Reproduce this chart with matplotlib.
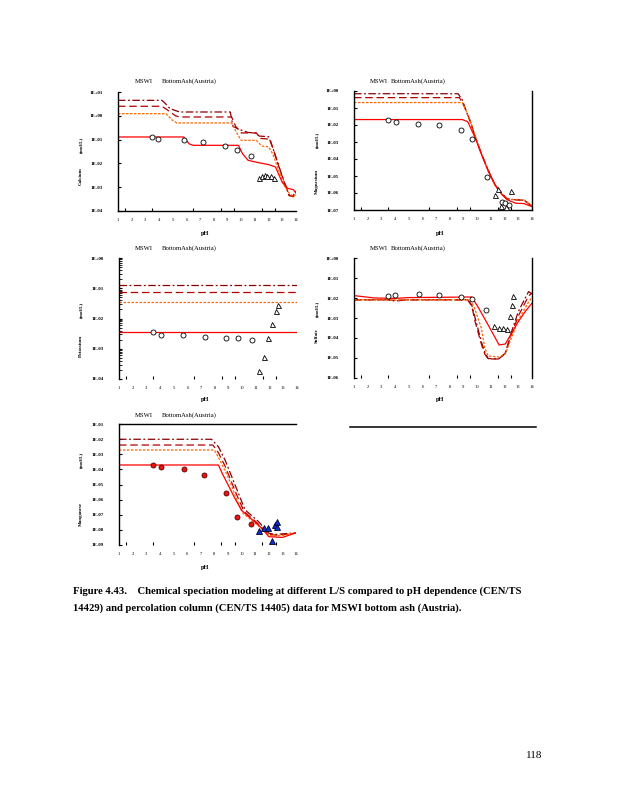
import matplotlib
matplotlib.use("Agg")
import matplotlib.pyplot as plt
import numpy as np
from matplotlib.ticker import FixedLocator, LogLocator, NullFormatter
from matplotlib.lines import Line2D

# ---------------- DATA (log10 of concentration in mol/L) ----------------
ph_ticks = [1, 2, 3, 4, 5, 6, 7, 8, 9, 10, 11, 12, 13, 14]
ph_tick_labels = ["1", "2", "3", "4", "5", "6", "7", "8", "9", "10", "11", "12", "13", "14"]
bottom_marks = [1.5, 3, 3.5, 4, 6, 6.5, 7, 8.5, 9, 9.5, 11.5, 12, 12.5, 14]

panel_title_a = "MSWI"
panel_title_b = "BottomAsh(Austria)"
unit_label = "(mol/L)"

# Calcium
ca_labels = ["1E+01", "1E+00", "1E-01", "1E-02", "1E-03", "1E-04"]
ca_dd_ph = [1, 4.2, 4.4, 4.8, 5.5, 9.2, 9.4, 10.0, 10.5, 11.1, 11.3, 12.0, 12.4, 12.8, 13.2, 13.5, 13.8, 14.0]
ca_dd_log = [0.65, 0.65, 0.55, 0.3, 0.16, 0.16, -0.45, -0.6, -0.7, -0.72, -0.85, -0.88, -1.5, -2.2, -2.9, -3.35, -3.35, -3.15]
ca_ld_ph = [1, 4.2, 4.6, 5.2, 5.5, 9.3, 9.6, 10.0, 11.1, 11.4, 12.1, 12.5, 12.9, 13.3, 13.5, 13.8, 14.0]
ca_ld_log = [0.4, 0.4, 0.25, 0.0, -0.05, -0.05, -0.45, -0.72, -0.72, -0.95, -0.98, -1.7, -2.4, -3.0, -3.35, -3.4, -3.2]
ca_or_ph = [1, 4.5, 5.0, 5.3, 9.3, 9.7, 10.0, 11.1, 11.5, 12.0, 12.3, 12.8, 13.2, 13.5, 13.8, 14.0]
ca_or_log = [0.09, 0.09, -0.2, -0.3, -0.3, -0.75, -1.03, -1.03, -1.27, -1.3, -1.6, -2.4, -3.0, -3.25, -3.4, -3.3]
ca_so_ph = [1, 5.8, 6.2, 6.5, 9.8, 10.1, 10.5, 11.1, 12.0, 12.5, 13.0, 13.4, 13.8, 14.0]
ca_so_log = [-0.89, -0.89, -1.18, -1.24, -1.24, -1.6, -1.87, -1.95, -2.05, -2.15, -2.8, -3.05, -3.1, -3.25]
ca_circ_ph = [3.45, 3.95, 5.8, 7.2, 8.8, 9.7, 10.7]
ca_circ_log = [-0.89, -0.96, -1.0, -1.1, -1.28, -1.42, -1.7]
ca_tri_ph = [11.3, 11.5, 11.7, 11.9, 12.2, 12.4]
ca_tri_log = [-2.62, -2.55, -2.5, -2.55, -2.55, -2.62]

# Magnesium
mg_labels = ["1E+00", "1E-01", "1E-02", "1E-03", "1E-04", "1E-05", "1E-06", "1E-07"]
mg_dd_ph = [1, 8.6, 8.9, 9.2, 9.5, 9.85, 10.3, 10.8, 11.3, 11.8, 12.2, 12.8, 13.4, 14.0]
mg_dd_log = [-0.16, -0.16, -0.5, -1.2, -1.8, -2.7, -3.68, -4.66, -5.54, -6.03, -6.35, -6.4, -6.42, -6.77]
mg_ld_ph = [1, 8.7, 9.0, 9.3, 9.5, 9.85, 10.3, 10.8, 11.3, 11.8, 12.2, 12.8, 13.4, 14.0]
mg_ld_log = [-0.39, -0.39, -0.8, -1.4, -1.8, -2.7, -3.68, -4.66, -5.54, -6.03, -6.35, -6.4, -6.42, -6.77]
mg_or_ph = [1, 8.9, 9.1, 9.4, 9.6, 9.9, 10.3, 10.8, 11.3, 11.8, 12.2, 12.8, 13.4, 14.0]
mg_or_log = [-0.68, -0.68, -1.0, -1.6, -2.0, -2.75, -3.7, -4.7, -5.55, -6.05, -6.35, -6.4, -6.4, -6.75]
mg_so_ph = [1, 8.9, 9.3, 9.85, 10.3, 10.8, 11.3, 11.8, 12.2, 12.8, 13.4, 14.0]
mg_so_log = [-1.68, -1.68, -1.8, -2.75, -3.7, -4.7, -5.5, -6.1, -6.4, -6.6, -6.62, -6.8]
mg_circ_ph = [3.5, 4.05, 5.7, 7.2, 8.8, 9.6, 10.7, 11.8, 12.0, 12.3]
mg_circ_log = [-1.72, -1.84, -1.92, -2.02, -2.27, -2.8, -5.05, -6.5, -6.6, -6.7]
mg_tri_ph = [11.3, 11.5, 11.75, 12.1, 12.5]
mg_tri_log = [-6.1, -5.75, -6.75, -6.8, -5.87]

# Potassium
k_labels = ["1E+00", "1E-01", "1E-02", "1E-03", "1E-04"]
k_line_ph = [1, 14]
k_dd_log = [-0.906, -0.906]
k_ld_log = [-1.13, -1.13]
k_or_log = [-1.44, -1.44]
k_so_log = [-2.43, -2.43]
k_circ_ph = [3.45, 4.05, 5.7, 7.3, 8.8, 9.7, 10.7]
k_circ_log = [-2.43, -2.54, -2.56, -2.61, -2.65, -2.65, -2.71]
k_tri_ph = [11.25, 11.6, 11.85, 12.2, 12.45, 12.6]
k_tri_log = [-3.73, -3.26, -2.65, -2.19, -1.75, -1.55]

# Sulfate
s_labels = ["1E+00", "1E-01", "1E-02", "1E-03", "1E-04", "1E-05", "1E-06"]
s_dd_ph = [1, 3.5, 4.0, 5.0, 9.3, 9.6, 9.85, 10.3, 10.55, 10.8, 11.6, 12.05, 12.5, 13.0, 13.75, 14.0]
s_dd_log = [-2.09, -2.09, -2.15, -2.09, -2.09, -2.35, -3.0, -4.19, -4.7, -5.03, -5.03, -4.77, -3.7, -2.68, -1.68, -1.8]
s_ld_ph = [1, 3.5, 4.0, 5.0, 9.3, 9.6, 9.85, 10.3, 10.55, 10.8, 11.6, 12.05, 12.5, 13.0, 13.75, 14.0]
s_ld_log = [-2.09, -2.09, -2.12, -2.09, -2.09, -2.4, -3.2, -4.3, -4.8, -5.05, -5.05, -4.75, -3.8, -2.9, -1.9, -1.75]
s_or_ph = [1, 3.5, 4.0, 5.0, 9.4, 9.6, 9.85, 10.3, 10.55, 10.8, 11.6, 12.05, 12.5, 13.0, 13.75, 14.0]
s_or_log = [-2.09, -2.09, -2.1, -2.09, -2.09, -2.2, -2.6, -3.5, -4.5, -4.9, -4.95, -4.8, -4.0, -3.1, -2.2, -1.95]
s_so_ph = [1, 2.5, 4.0, 5.0, 9.6, 10.1, 10.8, 11.6, 12.05, 12.5, 13.0, 13.5, 14.0]
s_so_log = [-1.88, -2.0, -2.02, -1.98, -1.95, -2.5, -3.35, -4.35, -4.3, -3.77, -3.18, -2.68, -2.26]
s_circ_ph = [3.46, 4.0, 5.76, 7.24, 8.78, 9.6, 10.66]
s_circ_log = [-1.88, -1.84, -1.81, -1.84, -1.93, -2.04, -2.6]
s_tri_ph = [11.24, 11.56, 11.9, 12.17, 12.4, 12.55, 12.6]
s_tri_log = [-3.38, -3.48, -3.5, -3.55, -2.88, -2.35, -1.88]

# Manganese
mn_labels = ["1E-01", "1E-02", "1E-03", "1E-04", "1E-05", "1E-06", "1E-07", "1E-08", "1E-09"]
mn_dd_ph = [1, 7.8, 8.3, 8.8, 9.28, 9.77, 10.26, 11.24, 12.0, 12.5, 13.2, 14.0]
mn_dd_log = [-2.01, -2.01, -2.5, -3.4, -4.48, -5.58, -6.68, -7.45, -8.22, -8.3, -8.25, -8.2]
mn_ld_ph = [1, 7.9, 8.3, 8.8, 9.2, 9.7, 10.2, 11.1, 12.0, 12.5, 13.2, 14.0]
mn_ld_log = [-2.39, -2.39, -2.9, -3.8, -4.7, -5.8, -6.8, -7.5, -8.3, -8.35, -8.3, -8.2]
mn_or_ph = [1, 8.0, 8.3, 8.8, 9.2, 9.6, 10.1, 11.0, 12.0, 12.5, 13.2, 14.0]
mn_or_log = [-2.72, -2.72, -3.2, -4.1, -4.9, -5.9, -6.9, -7.55, -8.35, -8.4, -8.35, -8.2]
mn_so_ph = [1, 8.3, 8.6, 9.0, 9.5, 10.0, 10.75, 11.5, 12.0, 13.0, 14.0]
mn_so_log = [-3.71, -3.71, -4.3, -5.0, -5.9, -6.7, -7.3, -7.9, -8.45, -8.5, -8.2]
mn_circ_ph = [3.5, 4.05, 5.75, 7.27, 8.84, 9.68, 10.7]
mn_circ_log = [-3.71, -3.87, -3.98, -4.37, -5.58, -7.12, -7.63]
mn_tri_ph = [11.3, 11.65, 11.93, 12.23, 12.47, 12.57, 12.6]
mn_tri_log = [-8.07, -7.9, -7.9, -8.73, -7.68, -7.45, -7.8]

caption_line1 = "Figure 4.43.    Chemical speciation modeling at different L/S compared to pH dependence (CEN/TS"
caption_line2 = "14429) and percolation column (CEN/TS 14405) data for MSWI bottom ash (Austria)."
page_number = "118"

# ---------------- STYLE ----------------
W, H = 618, 800
SERIF = ["Liberation Serif", "DejaVu Serif"]
C_DD = "#8B0000"
C_LD = "#B00000"
C_OR = "#FF6600"
C_SO = "#FF0000"
LW = 0.9
MS = 3.6

fig = plt.figure(figsize=(W / 100, H / 100), dpi=100)


def fx(px):
    return px / W


def fy(py):
    return 1 - py / H


def make_axes(x0, y0, x1, y1):
    return fig.add_axes([fx(x0), fy(y1), fx(x1) - fx(x0), fy(y0) - fy(y1)])


def style_axes(ax, top_log, labels, spines):
    ax.set_xlim(1, 14)
    ax.set_yscale("log")
    n = len(labels)
    decades = [10.0 ** (top_log - i) for i in range(n)]
    ax.set_ylim(decades[-1], decades[0])
    for s in ["top", "right", "bottom", "left"]:
        ax.spines[s].set_visible(s in spines)
        ax.spines[s].set_linewidth(1.0)
    ax.xaxis.set_major_locator(FixedLocator(ph_ticks))
    ax.set_xticklabels(ph_tick_labels, fontfamily=SERIF, fontsize=3.3)
    ax.xaxis.set_minor_locator(FixedLocator(bottom_marks))
    ax.tick_params(axis="x", which="major", length=0, pad=5)
    ax.tick_params(axis="x", which="minor", direction="in", length=2.5, width=0.8)
    ax.yaxis.set_major_locator(FixedLocator(decades))
    ax.set_yticklabels(labels, fontfamily=SERIF, fontsize=3.5, fontweight="bold")
    ax.yaxis.set_minor_locator(LogLocator(base=10, subs=np.arange(2, 10)))
    ax.yaxis.set_minor_formatter(NullFormatter())
    ax.tick_params(axis="y", which="major", direction="in", length=2.5, width=0.8, pad=11)
    ax.tick_params(axis="y", which="minor", direction="in", length=1.8, width=0.6)
    ax.patch.set_alpha(0)


def plot_models(ax, dd, ld, orr, so):
    ax.plot(dd[0], 10 ** np.array(dd[1]), color=C_DD, lw=LW, linestyle=(0, (6, 2, 1.5, 2)))
    ax.plot(ld[0], 10 ** np.array(ld[1]), color=C_LD, lw=LW, linestyle=(0, (6, 3)))
    ax.plot(orr[0], 10 ** np.array(orr[1]), color=C_OR, lw=LW, linestyle=(0, (2, 1.2)))
    ax.plot(so[0], 10 ** np.array(so[1]), color=C_SO, lw=LW, linestyle="-")


def plot_open(ax, cph, clog, tph, tlog):
    ax.plot(cph, 10 ** np.array(clog), linestyle="none", marker="o", ms=MS,
            mfc="white", mec="black", mew=0.6, zorder=5)
    ax.plot(tph, 10 ** np.array(tlog), linestyle="none", marker="^", ms=MS,
            mfc="white", mec="black", mew=0.6, zorder=5)


def titles(x_a, x_b, y, ylab, ylab_x, ylab_y, unit_y, ph_x, ph_y):
    fig.text(fx(x_a), fy(y), panel_title_a, fontfamily=SERIF, fontsize=4.8,
             ha="left", va="center")
    fig.text(fx(x_b), fy(y), panel_title_b, fontfamily=SERIF, fontsize=4.8,
             ha="left", va="center")
    fig.text(fx(ylab_x), fy(ylab_y), ylab, fontfamily=SERIF, fontsize=3.6,
             fontweight="bold", rotation=90, ha="center", va="center")
    fig.text(fx(ylab_x), fy(unit_y), unit_label, fontfamily=SERIF, fontsize=3.6,
             fontweight="bold", rotation=90, ha="center", va="center")
    fig.text(fx(ph_x), fy(ph_y), "pH", fontfamily=SERIF, fontsize=4.6,
             fontweight="bold", ha="center", va="center")


# ---- Panel 1: Calcium ----
ax1 = make_axes(118, 92, 296, 211)
style_axes(ax1, 1, ca_labels, ["left", "bottom"])
plot_models(ax1, (ca_dd_ph, ca_dd_log), (ca_ld_ph, ca_ld_log), (ca_or_ph, ca_or_log), (ca_so_ph, ca_so_log))
plot_open(ax1, ca_circ_ph, ca_circ_log, ca_tri_ph, ca_tri_log)
titles(135, 162, 81.5, "Calcium", 81, 176, 145, 205, 233)

# ---- Panel 2: Magnesium ----
ax2 = make_axes(354, 91, 532, 210)
style_axes(ax2, 0, mg_labels, ["left", "bottom", "right"])
plot_models(ax2, (mg_dd_ph, mg_dd_log), (mg_ld_ph, mg_ld_log), (mg_or_ph, mg_or_log), (mg_so_ph, mg_so_log))
plot_open(ax2, mg_circ_ph, mg_circ_log, mg_tri_ph, mg_tri_log)
titles(370, 391, 81.5, "Magnesium", 317, 182, 140, 440, 233)

# ---- Panel 3: Potassium ----
ax3 = make_axes(119, 258, 297, 379)
style_axes(ax3, 0, k_labels, ["left"])
plot_models(ax3, (k_line_ph, k_dd_log), (k_line_ph, k_ld_log), (k_line_ph, k_or_log), (k_line_ph, k_so_log))
plot_open(ax3, k_circ_ph, k_circ_log, k_tri_ph, k_tri_log)
titles(135, 162, 248.5, "Potassium", 81, 346, 310, 205, 400)

# ---- Panel 4: Sulfate ----
ax4 = make_axes(354, 258, 532, 378)
style_axes(ax4, 0, s_labels, ["left", "right"])
plot_models(ax4, (s_dd_ph, s_dd_log), (s_ld_ph, s_ld_log), (s_or_ph, s_or_log), (s_so_ph, s_so_log))
plot_open(ax4, s_circ_ph, s_circ_log, s_tri_ph, s_tri_log)
titles(370, 391, 248.5, "Sulfate", 317, 336, 309, 440, 400)

# ---- Panel 5: Manganese ----
ax5 = make_axes(119, 424, 296, 545)
style_axes(ax5, -1, mn_labels, ["left", "top"])
plot_models(ax5, (mn_dd_ph, mn_dd_log), (mn_ld_ph, mn_ld_log), (mn_or_ph, mn_or_log), (mn_so_ph, mn_so_log))
ax5.plot(mn_circ_ph, 10 ** np.array(mn_circ_log), linestyle="none", marker="o", ms=MS,
         mfc="#E8150F", mec="#5A0000", mew=0.6, zorder=5)
ax5.plot(mn_tri_ph, 10 ** np.array(mn_tri_log), linestyle="none", marker="^", ms=MS + 0.4,
         mfc="#1030C8", mec="#000030", mew=0.6, zorder=5)
titles(135, 162, 415.5, "Manganese", 81, 514, 460, 205, 568)

# empty sixth panel top border
fig.add_artist(Line2D([fx(350), fx(536)], [fy(427), fy(427)], color="black", lw=1.1))

# caption and page number
fig.text(fx(73), fy(591), caption_line1, fontfamily=SERIF, fontsize=7.7,
         fontweight="bold", ha="left", va="center")
fig.text(fx(73), fy(608), caption_line2, fontfamily=SERIF, fontsize=7.7,
         fontweight="bold", ha="left", va="center")
fig.text(fx(526), fy(755), page_number, fontfamily=SERIF, fontsize=8.0,
         ha="left", va="center")

fig.savefig("out.png", dpi=100, facecolor="white")
